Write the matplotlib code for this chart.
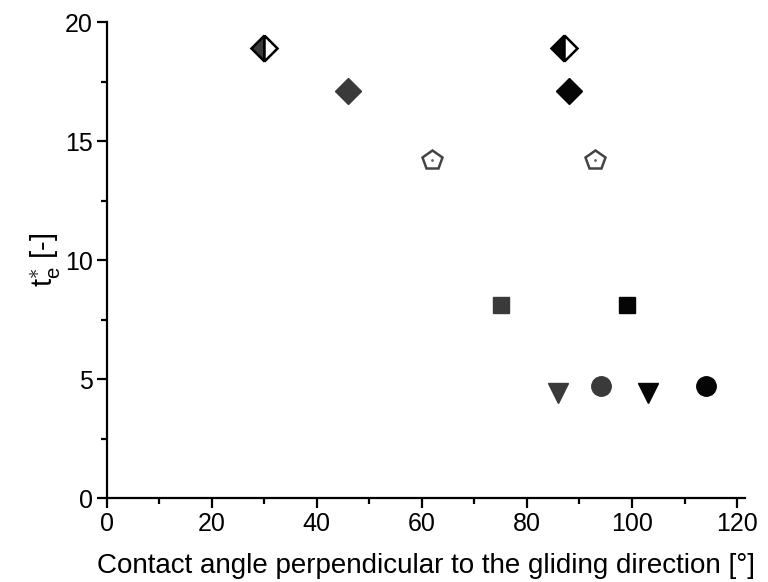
import matplotlib
matplotlib.use('Agg')
import matplotlib.pyplot as plt
from matplotlib.ticker import MultipleLocator

plt.rcParams['font.family'] = ['Liberation Sans', 'DejaVu Sans']
plt.rcParams['mathtext.fontset'] = 'custom'
plt.rcParams['mathtext.rm'] = 'Liberation Sans'
plt.rcParams['mathtext.it'] = 'Liberation Sans'

# gray series (left group) and black series (right group)
markers = ['D', 'D', 'p', 's', 'v', 'o']
fills = ['left', 'full', 'none', 'full', 'full', 'full']
gray_x = [30, 46, 62, 75, 86, 94]
black_x = [87, 88, 93, 99, 103, 114]
t_e = [18.9, 17.1, 14.2, 8.1, 4.4, 4.7]
sizes = [13, 13, 15, 12, 15, 14]

fig = plt.figure(figsize=(7.68, 5.82), dpi=100)
ax = fig.add_axes([0.139, 0.144, 0.831, 0.818])

for xs, col in [(gray_x, '#3a3a3a'), (black_x, '#050505')]:
    for x, y, m, fs, ms in zip(xs, t_e, markers, fills, sizes):
        if fs == 'none':
            ax.plot(x, y, marker=m, ms=ms, mfc='white', mec='#444444', mew=1.8, ls='none')
            ax.plot(x, y, marker='.', ms=2, color='#666666', ls='none')
        elif fs == 'left':
            ax.plot(x, y, marker=m, ms=ms, fillstyle='left', mfc=col, mfcalt='white',
                    mec='black', mew=1.8, ls='none')
        else:
            ax.plot(x, y, marker=m, ms=ms, mfc=col, mec=col, ls='none')

ax.set_xlim(0, 121.5)
ax.set_ylim(0, 20)
ax.xaxis.set_major_locator(MultipleLocator(20))
ax.xaxis.set_minor_locator(MultipleLocator(10))
ax.yaxis.set_major_locator(MultipleLocator(5))
ax.yaxis.set_minor_locator(MultipleLocator(2.5))
ax.spines['top'].set_visible(False)
ax.spines['right'].set_visible(False)
for s in ['left', 'bottom']:
    ax.spines[s].set_linewidth(1.6)
ax.tick_params(which='major', direction='out', length=7, width=1.6, labelsize=18, pad=3)
ax.tick_params(which='minor', direction='out', length=4, width=1.6)
ax.set_xlabel('Contact angle perpendicular to the gliding direction [°]', fontsize=20,
              labelpad=12)
ax.set_ylabel(r'$\mathrm{t}_\mathrm{e}^{\ast}$ [-]', fontsize=21, labelpad=2)

plt.savefig('out.png', dpi=100)
